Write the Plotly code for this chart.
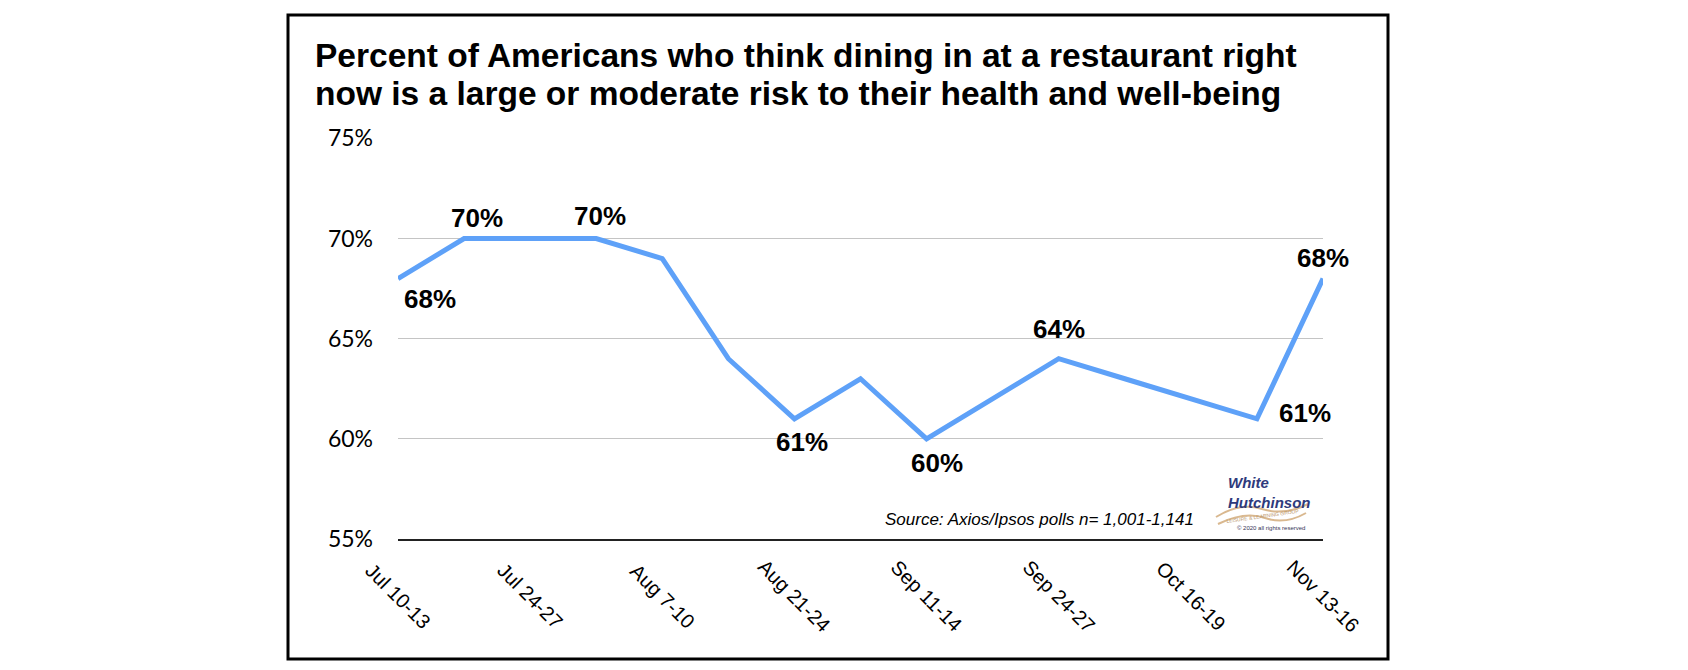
import plotly.graph_objects as go

# ---- data ----
poll_index = list(range(15))
risk_pct = [68, 70, 70, 70, 69, 64, 61, 63, 60, 62, 64, 63, 62, 61, 68]
label_index = [0, 2, 4, 6, 8, 10, 12, 14]
label_text = ["Jul 10-13", "Jul 24-27", "Aug 7-10", "Aug 21-24",
              "Sep 11-14", "Sep 24-27", "Oct 16-19", "Nov 13-16"]
# which points carry a value label, and label offsets (px)
value_label_index = [0, 1, 3, 6, 8, 10, 13, 14]
value_label_dx = [32, 13, 4, 8, 10, 0, 48, 0]
value_label_dy = [-20, 21, 23, -23, -24, 30, 6, 21]
y_ticks = [55, 60, 65, 70, 75]
y_tick_text = ["55%", "60%", "65%", "70%", "75%"]
title_lines = ["Percent of Americans who think dining in at a restaurant right",
               "now is a large or moderate risk to their health and well-being"]
source_text = "Source: Axios/Ipsos polls n= 1,001-1,141"

W, H = 1688, 670
PL, PR, PT, PB = 398, 1323, 138, 539   # plot area pixel bounds


def px_x(p):
    return (p - PL) / (PR - PL)


def px_y(p):
    return (PB - p) / (PB - PT)


fig = go.Figure()
fig.add_trace(go.Scatter(
    x=poll_index, y=risk_pct, mode="lines",
    line=dict(color="#5EA1F8", width=5),
    hoverinfo="skip", showlegend=False,
))

ann = []
# title: two tightly set lines
for line, ymid in zip(title_lines, [55.5, 94]):
    ann.append(dict(
        x=px_x(313), y=px_y(ymid), xref="paper", yref="paper",
        xanchor="left", yanchor="middle", text=line, showarrow=False,
        font=dict(family="Liberation Sans, Arial", size=33.5, color="#000000", weight="bold"),
    ))

for i, dx, dy in zip(value_label_index, value_label_dx, value_label_dy):
    ann.append(dict(
        x=i, y=risk_pct[i], xref="x", yref="y", text=f"{risk_pct[i]}%",
        showarrow=False, xshift=dx, yshift=dy,
        font=dict(family="Liberation Sans, Arial", size=26, color="#000000", weight="bold"),
    ))

for i, t in zip(label_index, label_text):
    ann.append(dict(
        x=i, y=0, xref="x", yref="paper", text=t, showarrow=False,
        textangle=45, xanchor="center", yanchor="middle", yshift=-57,
        font=dict(family="Liberation Sans, Arial", size=20, color="#000000"),
    ))

# source note
ann.append(dict(
    x=px_x(1196), y=px_y(519), xref="paper", yref="paper", xanchor="right", yanchor="middle",
    text=f"<i>{source_text}</i>", showarrow=False,
    font=dict(family="Liberation Sans, Arial", size=17, color="#000000"),
))
# logo (text recreation)
ann.append(dict(
    x=px_x(1226), y=px_y(492), xref="paper", yref="paper", xanchor="left", yanchor="middle",
    text="<b><i>White<br>Hutchinson</i></b>", showarrow=False, align="left",
    font=dict(family="Liberation Sans Narrow, Liberation Sans", size=15, color="#2E3A7C"),
))
ann.append(dict(
    x=px_x(1262), y=px_y(516), xref="paper", yref="paper", xanchor="center", yanchor="middle",
    text="LEISURE &amp; LEARNING GROUP", showarrow=False, textangle=-8,
    font=dict(family="Liberation Sans", size=5, color="#B8946A"),
))
ann.append(dict(
    x=px_x(1307), y=px_y(528), xref="paper", yref="paper", xanchor="right", yanchor="middle",
    text="© 2020 all rights reserved", showarrow=False,
    font=dict(family="Liberation Sans", size=6, color="#333355"),
))

shapes = [
    # outer frame
    dict(type="rect", xref="paper", yref="paper",
         x0=px_x(288), x1=px_x(1388), y0=px_y(659), y1=px_y(15),
         line=dict(color="#000000", width=3), fillcolor="rgba(0,0,0,0)", layer="above"),
    # logo swooshes
    dict(type="path", xref="paper", yref="paper",
         path=(f"M {px_x(1216)},{px_y(517)} Q {px_x(1240)},{px_y(502)} {px_x(1262)},{px_y(509)} "
               f"T {px_x(1308)},{px_y(504)}"),
         line=dict(color="#D9B88F", width=2)),
    dict(type="path", xref="paper", yref="paper",
         path=(f"M {px_x(1218)},{px_y(524)} Q {px_x(1245)},{px_y(511)} {px_x(1265)},{px_y(518)} "
               f"T {px_x(1306)},{px_y(513)}"),
         line=dict(color="#D9B88F", width=2)),
]

fig.update_layout(
    width=W, height=H,
    margin=dict(l=PL, r=W - PR, t=PT, b=H - PB, pad=0),
    paper_bgcolor="#FFFFFF", plot_bgcolor="#FFFFFF",
    xaxis=dict(range=[0, 14], showgrid=False, zeroline=False, showticklabels=False,
               showline=True, linecolor="#222222", linewidth=2, ticks=""),
    yaxis=dict(range=[55, 75.02], tickvals=y_ticks, ticktext=y_tick_text,
               showgrid=True, gridcolor="#C4C4C4", gridwidth=1.2, zeroline=False,
               showline=False, ticks="", ticklabelstandoff=24,
               tickfont=dict(family="Lato", size=23, color="#000000")),
    annotations=ann, shapes=shapes, showlegend=False,
)

fig.write_html("out.html")
